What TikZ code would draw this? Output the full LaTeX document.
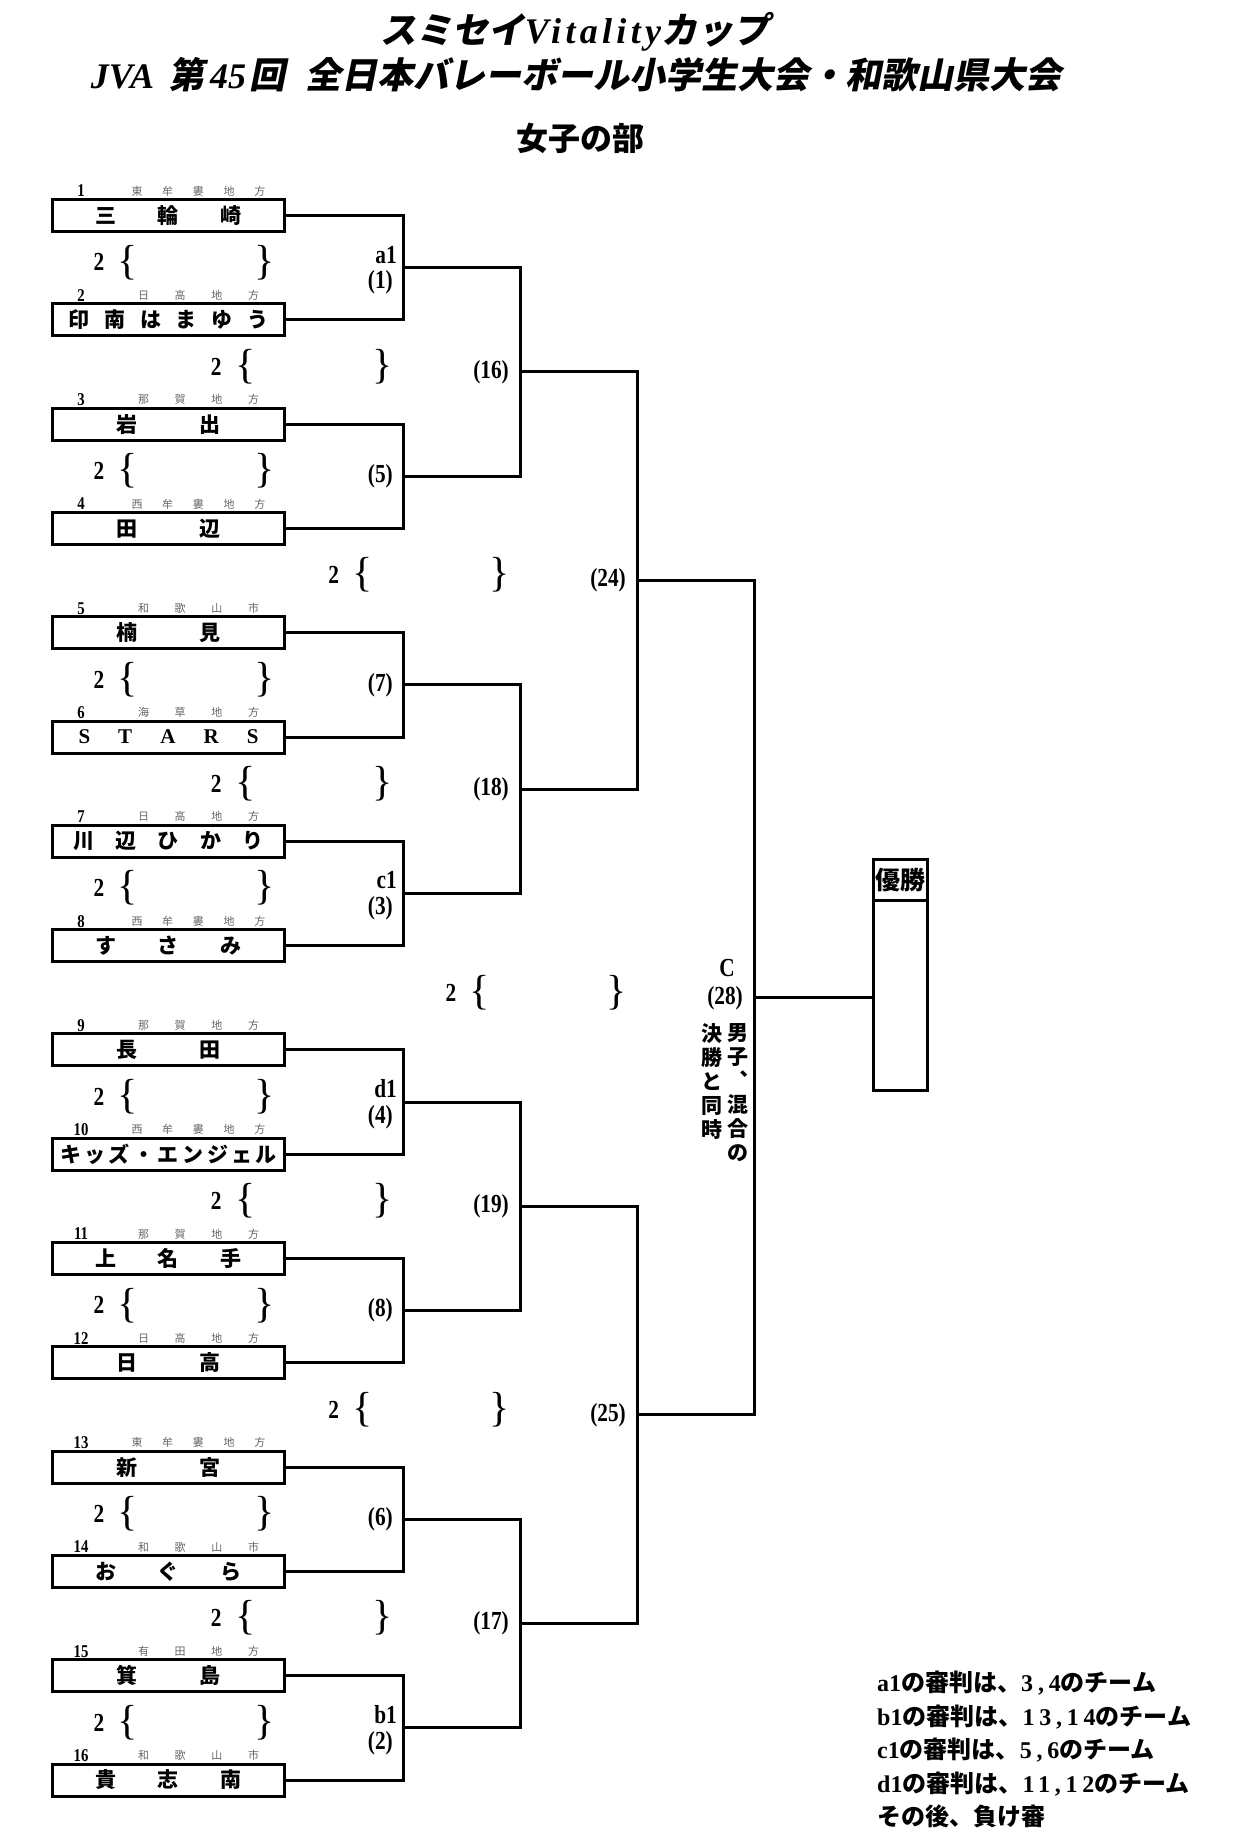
\documentclass[tikz,border=0pt]{standalone}
\usepackage{fontspec}
\setmainfont{Liberation Serif}
\newfontfamily\jp{Noto Sans CJK JP}
\newfontfamily\jpsl[FakeSlant=0.2]{Noto Sans CJK JP}
\newfontfamily\ltsp[LetterSpace=12]{Liberation Serif}
\newfontfamily\numsp[LetterSpace=20]{Liberation Serif}
\newfontfamily\cond[FakeStretch=0.82]{Liberation Serif}
\usetikzlibrary{positioning,calc}
\newcommand\gapp{\hfill}

\begin{document}
\begin{tikzpicture}[x=1pt,y=-1pt,
    line/.style={line width=3pt},
    team/.style={draw,line width=3pt,minimum width=232pt,minimum height=32pt,inner sep=0pt,font=\jp\bfseries\fontsize{21}{21}\selectfont},
    area/.style={inner sep=0pt,text=black!60,font=\jp\fontsize{11}{11}\selectfont},
    seed/.style={inner sep=0pt,font=\cond\bfseries\fontsize{18}{18}\selectfont},
    two/.style={inner sep=0pt,font=\cond\bfseries\fontsize{26}{26}\selectfont},
    brc/.style={inner sep=0pt,font=\fontsize{42}{42}\selectfont},
    game/.style={inner sep=0pt,anchor=east,font=\cond\bfseries\fontsize{26}{26}\selectfont},
    vcol/.style={inner sep=0pt,anchor=north,align=center,font=\jp\bfseries\fontsize{21}{24}\selectfont}]
\useasboundingbox (0,0) rectangle (1239,1844);

\node[font=\jpsl\bfseries\fontsize{36}{36}\selectfont] (title1) at (575,32) {スミセイ{\ltsp\itshape Vitality}カップ};
\node[font=\jpsl\bfseries\fontsize{36}{36}\selectfont] (title2) at (576,75) {{\rmfamily\itshape JVA}\hspace{14pt}第\hspace{6pt}{\rmfamily\itshape 45}\hspace{3pt}回\hspace{20pt}全日本バレーボール小学生大会・和歌山県大会};
\node[font=\jp\bfseries\fontsize{32}{32}\selectfont] (part) at (580,138) {女子の部};

\foreach \k/\aw/\ar/\w/\nm in {
    1/134/東\gapp 牟\gapp 婁\gapp 地\gapp 方/146/三\gapp 輪\gapp 崎,
    2/121/日\gapp 高\gapp 地\gapp 方/200/印\gapp 南\gapp は\gapp ま\gapp ゆ\gapp う,
    3/121/那\gapp 賀\gapp 地\gapp 方/104/岩\gapp 出,
    4/134/西\gapp 牟\gapp 婁\gapp 地\gapp 方/104/田\gapp 辺,
    5/121/和\gapp 歌\gapp 山\gapp 市/104/楠\gapp 見,
    6/121/海\gapp 草\gapp 地\gapp 方/180/{\rmfamily S\gapp T\gapp A\gapp R\gapp S},
    7/121/日\gapp 高\gapp 地\gapp 方/190/川\gapp 辺\gapp ひ\gapp か\gapp り,
    8/134/西\gapp 牟\gapp 婁\gapp 地\gapp 方/146/す\gapp さ\gapp み,
    9/121/那\gapp 賀\gapp 地\gapp 方/104/長\gapp 田,
    10/134/西\gapp 牟\gapp 婁\gapp 地\gapp 方/217/キ\gapp ッ\gapp ズ\gapp ・\gapp エ\gapp ン\gapp ジ\gapp ェ\gapp ル,
    11/121/那\gapp 賀\gapp 地\gapp 方/146/上\gapp 名\gapp 手,
    12/121/日\gapp 高\gapp 地\gapp 方/104/日\gapp 高,
    13/134/東\gapp 牟\gapp 婁\gapp 地\gapp 方/104/新\gapp 宮,
    14/121/和\gapp 歌\gapp 山\gapp 市/146/お\gapp ぐ\gapp ら,
    15/121/有\gapp 田\gapp 地\gapp 方/104/箕\gapp 島,
    16/121/和\gapp 歌\gapp 山\gapp 市/146/貴\gapp 志\gapp 南} {
  \node[team] (t\k) at (168.5,{215.5+104.3*(\k-1)}) {\makebox[\w pt]{\nm}};
  \node[area] (a\k) at (198.5,{191+104.3*(\k-1)}) {\makebox[\aw pt]{\ar}};
  \node[seed] (n\k) at (81,{191+104.3*(\k-1)}) {\k};
}

\foreach \k/\lv in {1/0,2/1,3/0,4/2,5/0,6/1,7/0,8/3,9/0,10/1,11/0,12/2,13/0,14/1,15/0} {
  \node[two] (w\k) at ({99+117.3*\lv},{158+104.3*\k}) {2};
  \node[brc] (l\k) at ({128+117.3*\lv},{158+104.3*\k}) {\{};
  \node[brc] (r\k) at ({265+117.3*\lv},{158+104.3*\k}) {\}};
}

\foreach \m [evaluate=\m as \pu using int(2*\m-1), evaluate=\m as \pd using int(2*\m)] in {1,...,8} {
  \coordinate (p\m) at (403,{267.65+208.6*(\m-1)});
  \draw[line] (t\pu.east) -| (p\m) |- (t\pd.east);
}
\foreach \m [evaluate=\m as \pu using int(2*\m-1), evaluate=\m as \pd using int(2*\m)] in {1,...,4} {
  \coordinate (q\m) at (520,{371.95+417.2*(\m-1)});
  \draw[line] (p\pu) -| (q\m) |- (p\pd);
}
\foreach \m [evaluate=\m as \pu using int(2*\m-1), evaluate=\m as \pd using int(2*\m)] in {1,2} {
  \coordinate (s\m) at (637,{580.55+834.4*(\m-1)});
  \draw[line] (q\pu) -| (s\m) |- (q\pd);
}
\coordinate (f) at (754,997.75);
\draw[line] (s1) -| (f) |- (s2);

\foreach \m/\lb in {2/{(5)},3/{(7)},6/{(8)},7/{(6)}}
  \node[game] (g\m) at (393,{267.65+208.6*(\m-1)}) {\lb};
\foreach \m/\ltr/\lb in {1/a1/{(1)},4/c1/{(3)},5/d1/{(4)},8/b1/{(2)}} {
  \node[game] (u\m) at (397,{267.65+208.6*(\m-1)-13}) {\ltr};
  \node[game] (g\m) at (393,{267.65+208.6*(\m-1)+15}) {\lb};
}
\foreach \m/\lb in {1/{(16)},2/{(18)},3/{(19)},4/{(17)}}
  \node[game] (h\m) at (509,{371.95+417.2*(\m-1)}) {\lb};
\foreach \m/\lb in {1/{(24)},2/{(25)}}
  \node[game] (k\m) at (626,{580.55+834.4*(\m-1)}) {\lb};

\node[game,anchor=center] (cc) at (727,968) {C};
\node[game] (g28) at (743,998) {(28)};
\node[vcol] (v1) at (738,1023) {男\\子\\︑\\混\\合\\の};
\node[vcol] (v2) at (712,1023) {決\\勝\\と\\同\\時};

\node[draw,line width=3pt,minimum width=54pt,minimum height=231pt,inner sep=0pt] (win) at (900.5,975) {};
\draw[line] ($(win.north west)+(0,42.5)$) -- ($(win.north east)+(0,42.5)$);
\node[font=\jp\bfseries\fontsize{25}{25}\selectfont,inner sep=0pt] (champ) at (900.5,880.5) {優勝};
\draw[line] (f) -- (f -| win.west);

\node[anchor=north west,align=left,inner sep=0pt,font=\jp\bfseries\fontsize{24}{33.5}\selectfont] (notes) at (877,1671) {{\rmfamily a1}の審判は、{\numsp 3,4}のチーム\\{\rmfamily b1}の審判は、{\numsp 13,14}のチーム\\{\rmfamily c1}の審判は、{\numsp 5,6}のチーム\\{\rmfamily d1}の審判は、{\numsp 11,12}のチーム\\その後、負け審};
\end{tikzpicture}
\end{document}
